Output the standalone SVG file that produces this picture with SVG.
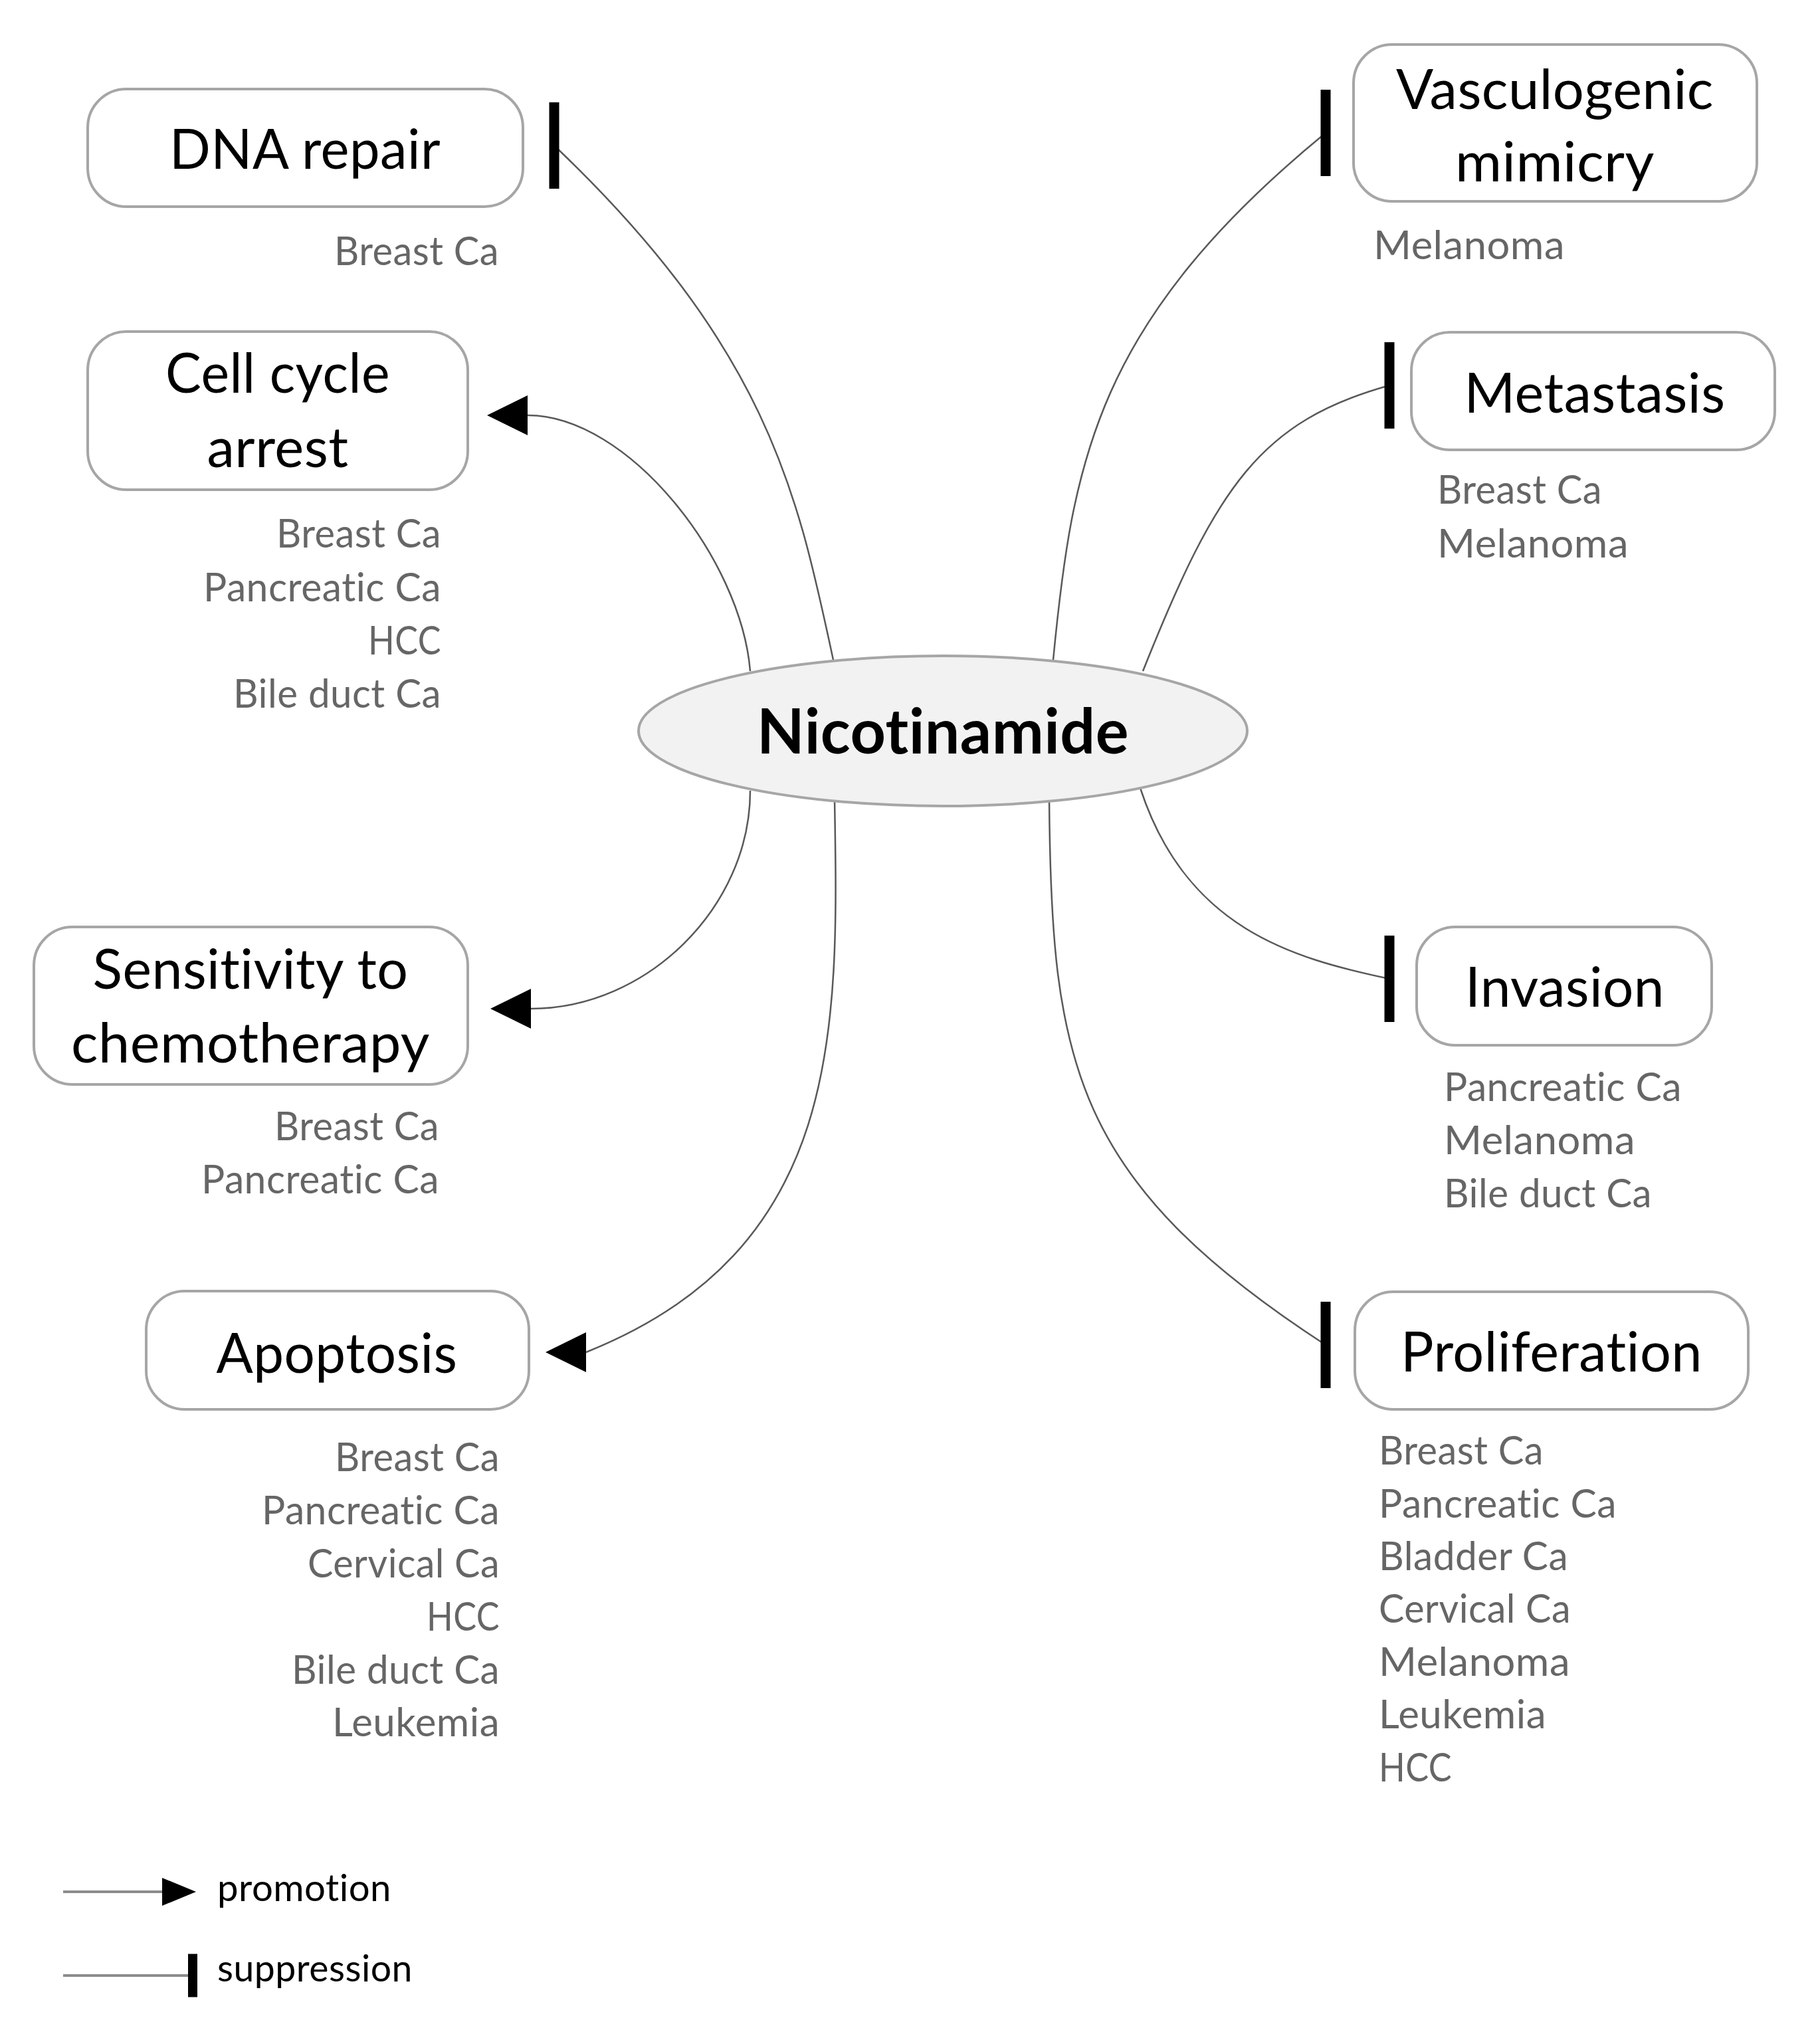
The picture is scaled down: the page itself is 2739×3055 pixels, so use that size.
<svg xmlns="http://www.w3.org/2000/svg" width="2739" height="3055" viewBox="0 0 2739 3055">
<style>
text{font-variant-ligatures:no-common-ligatures no-discretionary-ligatures no-historical-ligatures no-contextual;font-feature-settings:"liga" 0,"clig" 0,"calt" 0,"dlig" 0;letter-spacing:0.5px}
.box{fill:#ffffff;stroke:#a6a6a6;stroke-width:4}
.ell{fill:#f2f2f2;stroke:#a6a6a6;stroke-width:4}
.lbl{font-family:Lato,"Open Sans","Liberation Sans",sans-serif;font-size:84px;fill:#000000;text-anchor:middle}
.title{font-family:Lato,"Open Sans","Liberation Sans",sans-serif;font-size:94px;font-weight:bold;fill:#000000;text-anchor:middle}
.ca{font-family:Lato,"Open Sans","Liberation Sans",sans-serif;font-size:60px;fill:#666666}
.r{text-anchor:end}
.conn{fill:none;stroke:#595959;stroke-width:2.5}
.leg{fill:none;stroke:#8c8c8c;stroke-width:4}
.legtxt{font-family:Lato,"Open Sans","Liberation Sans",sans-serif;font-size:56px;fill:#000000}
</style>
<defs>
<marker id="arrowL" markerUnits="userSpaceOnUse" viewBox="-5 -35 70 70" markerWidth="70" markerHeight="70" refX="61" refY="0" orient="0">
<path d="M0,0 L61,-30 L61,30 Z" fill="#000000"/>
</marker>
<marker id="bar" markerUnits="userSpaceOnUse" viewBox="-10 -70 20 140" markerWidth="20" markerHeight="140" refX="0" refY="0" orient="0">
<rect x="-7.5" y="-65" width="15" height="130" fill="#000000"/>
</marker>
<marker id="arrowLeg" markerUnits="userSpaceOnUse" viewBox="-5 -26 60 52" markerWidth="60" markerHeight="52" refX="0" refY="0" orient="0">
<path d="M0,-21 L51,0 L0,21 Z" fill="#000000"/>
</marker>
<marker id="barLeg" markerUnits="userSpaceOnUse" viewBox="-10 -36 20 72" markerWidth="20" markerHeight="72" refX="0" refY="0" orient="0">
<rect x="-7" y="-32.5" width="14" height="65" fill="#000000"/>
</marker>
</defs>

<g id="connectors">
<path class="conn" d="M1254,993 C1201,748 1159,528 834,219" marker-end="url(#bar)"/>
<path class="conn" d="M1585,993 C1614,693 1650,483 1995,200" marker-end="url(#bar)"/>
<path class="conn" d="M1720,1010 C1831,731 1897,634 2091,580" marker-end="url(#bar)"/>
<path class="conn" d="M1129,1010 C1115,840 945,625 794,625" marker-end="url(#arrowL)"/>
<path class="conn" d="M1129,1190 C1129,1365 974,1518 799,1518" marker-end="url(#arrowL)"/>
<path class="conn" d="M1256,1203 C1262,1550 1270,1880 882,2035" marker-end="url(#arrowL)"/>
<path class="conn" d="M1716,1186 C1785,1397 1944,1442 2091,1473" marker-end="url(#bar)"/>
<path class="conn" d="M1579,1203 C1582,1600 1615,1777 1995,2024" marker-end="url(#bar)"/>
</g>

<g id="nicotinamide">
<ellipse class="ell" cx="1419" cy="1100" rx="458" ry="113"/>
<text class="title" x="1419" y="1134" textLength="560" lengthAdjust="spacingAndGlyphs">Nicotinamide</text>
</g>

<g id="dna-repair">
<rect class="box" x="132" y="134" width="655" height="177" rx="58"/>
<text class="lbl" x="459" y="254" textLength="408" lengthAdjust="spacingAndGlyphs">DNA repair</text>
<text class="ca r" x="751" y="399" textLength="248" lengthAdjust="spacingAndGlyphs">Breast Ca</text>
</g>

<g id="cell-cycle-arrest">
<rect class="box" x="132" y="499" width="572" height="238" rx="58"/>
<text class="lbl" x="418" y="591" textLength="338" lengthAdjust="spacingAndGlyphs">Cell cycle</text>
<text class="lbl" x="418" y="703" textLength="213" lengthAdjust="spacingAndGlyphs">arrest</text>
<text class="ca r" x="664" y="824" textLength="248" lengthAdjust="spacingAndGlyphs">Breast Ca</text>
<text class="ca r" x="664" y="905" textLength="358" lengthAdjust="spacingAndGlyphs">Pancreatic Ca</text>
<text class="ca r" x="664" y="985" textLength="110" lengthAdjust="spacingAndGlyphs">HCC</text>
<text class="ca r" x="664" y="1065" textLength="313" lengthAdjust="spacingAndGlyphs">Bile duct Ca</text>
</g>

<g id="sensitivity-to-chemotherapy">
<rect class="box" x="51" y="1395" width="653" height="237" rx="58"/>
<text class="lbl" x="377" y="1488" textLength="475" lengthAdjust="spacingAndGlyphs">Sensitivity to</text>
<text class="lbl" x="377" y="1599" textLength="540" lengthAdjust="spacingAndGlyphs">chemotherapy</text>
<text class="ca r" x="661" y="1716" textLength="248" lengthAdjust="spacingAndGlyphs">Breast Ca</text>
<text class="ca r" x="661" y="1796" textLength="358" lengthAdjust="spacingAndGlyphs">Pancreatic Ca</text>
</g>

<g id="apoptosis">
<rect class="box" x="220" y="1943" width="576" height="178" rx="58"/>
<text class="lbl" x="507" y="2066" textLength="363" lengthAdjust="spacingAndGlyphs">Apoptosis</text>
<text class="ca r" x="752" y="2214" textLength="248" lengthAdjust="spacingAndGlyphs">Breast Ca</text>
<text class="ca r" x="752" y="2294" textLength="358" lengthAdjust="spacingAndGlyphs">Pancreatic Ca</text>
<text class="ca r" x="752" y="2374" textLength="289" lengthAdjust="spacingAndGlyphs">Cervical Ca</text>
<text class="ca r" x="752" y="2454" textLength="110" lengthAdjust="spacingAndGlyphs">HCC</text>
<text class="ca r" x="752" y="2534" textLength="313" lengthAdjust="spacingAndGlyphs">Bile duct Ca</text>
<text class="ca r" x="752" y="2613" textLength="252" lengthAdjust="spacingAndGlyphs">Leukemia</text>
</g>

<g id="vasculogenic-mimicry">
<rect class="box" x="2037" y="67" width="607" height="236" rx="58"/>
<text class="lbl" x="2340" y="164" textLength="478" lengthAdjust="spacingAndGlyphs">Vasculogenic</text>
<text class="lbl" x="2340" y="273" textLength="300" lengthAdjust="spacingAndGlyphs">mimicry</text>
<text class="ca" x="2067" y="390" textLength="288" lengthAdjust="spacingAndGlyphs">Melanoma</text>
</g>

<g id="metastasis">
<rect class="box" x="2124" y="500" width="547" height="177" rx="58"/>
<text class="lbl" x="2400" y="621" textLength="393" lengthAdjust="spacingAndGlyphs">Metastasis</text>
<text class="ca" x="2163" y="758" textLength="248" lengthAdjust="spacingAndGlyphs">Breast Ca</text>
<text class="ca" x="2163" y="839" textLength="288" lengthAdjust="spacingAndGlyphs">Melanoma</text>
</g>

<g id="invasion">
<rect class="box" x="2132" y="1395" width="444" height="178" rx="58"/>
<text class="lbl" x="2355" y="1515" textLength="300" lengthAdjust="spacingAndGlyphs">Invasion</text>
<text class="ca" x="2173" y="1657" textLength="358" lengthAdjust="spacingAndGlyphs">Pancreatic Ca</text>
<text class="ca" x="2173" y="1737" textLength="288" lengthAdjust="spacingAndGlyphs">Melanoma</text>
<text class="ca" x="2173" y="1817" textLength="313" lengthAdjust="spacingAndGlyphs">Bile duct Ca</text>
</g>

<g id="proliferation">
<rect class="box" x="2039" y="1944" width="592" height="177" rx="58"/>
<text class="lbl" x="2335" y="2064" textLength="454" lengthAdjust="spacingAndGlyphs">Proliferation</text>
<text class="ca" x="2075" y="2204" textLength="248" lengthAdjust="spacingAndGlyphs">Breast Ca</text>
<text class="ca" x="2075" y="2284" textLength="358" lengthAdjust="spacingAndGlyphs">Pancreatic Ca</text>
<text class="ca" x="2075" y="2363" textLength="285" lengthAdjust="spacingAndGlyphs">Bladder Ca</text>
<text class="ca" x="2075" y="2442" textLength="289" lengthAdjust="spacingAndGlyphs">Cervical Ca</text>
<text class="ca" x="2075" y="2522" textLength="288" lengthAdjust="spacingAndGlyphs">Melanoma</text>
<text class="ca" x="2075" y="2601" textLength="252" lengthAdjust="spacingAndGlyphs">Leukemia</text>
<text class="ca" x="2075" y="2681" textLength="110" lengthAdjust="spacingAndGlyphs">HCC</text>
</g>

<g id="legend">
<path class="leg" d="M95,2847 L244,2847" marker-end="url(#arrowLeg)"/>
<text class="legtxt" x="327" y="2861" textLength="262" lengthAdjust="spacingAndGlyphs">promotion</text>
<path class="leg" d="M95,2973 L290,2973" marker-end="url(#barLeg)"/>
<text class="legtxt" x="327" y="2982" textLength="294" lengthAdjust="spacingAndGlyphs">suppression</text>
</g>
</svg>
